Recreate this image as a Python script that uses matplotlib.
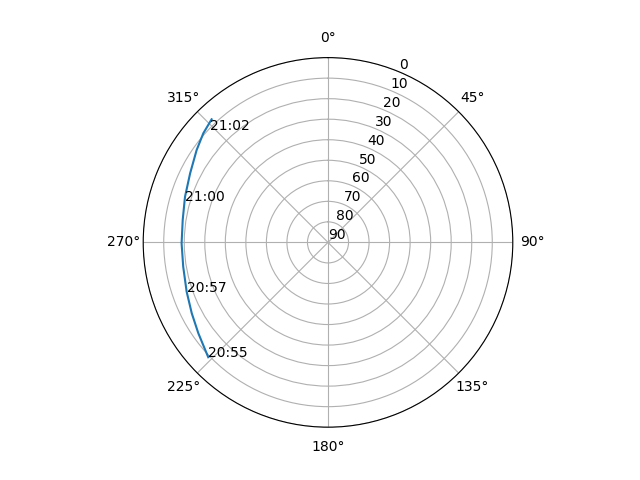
import matplotlib
matplotlib.use("Agg")
import matplotlib.pyplot as plt
import numpy as np

# satellite pass: azimuth (deg) and elevation (deg)
az = [226.2, 235.0, 242.5, 250.8, 260.5, 269.6, 278.8, 287.7, 296.6, 305.1, 311.2, 316.6]
el = [9.2, 12.9, 15.2, 17.1, 18.5, 18.7, 18.4, 16.9, 14.9, 11.8, 9.3, 7.5]

# time stamps along the pass
label_text = ["20:55", "20:57", "21:00", "21:02"]
label_az = [226.2, 250.8, 286.0, 313.6]
label_el = [9.2, 17.1, 17.4, 10.6]

fig = plt.figure(figsize=(6.4, 4.8), dpi=100)
ax = fig.add_subplot(projection="polar")
ax.set_theta_zero_location("N")
ax.set_theta_direction(-1)

ax.plot(np.radians(az), el)
for t, a, e in zip(label_text, label_az, label_el):
    ax.text(np.radians(a), e, t)

ax.set_ylim(90, 0)
ax.set_yticks(range(0, 91, 10))

fig.savefig("out.png")
